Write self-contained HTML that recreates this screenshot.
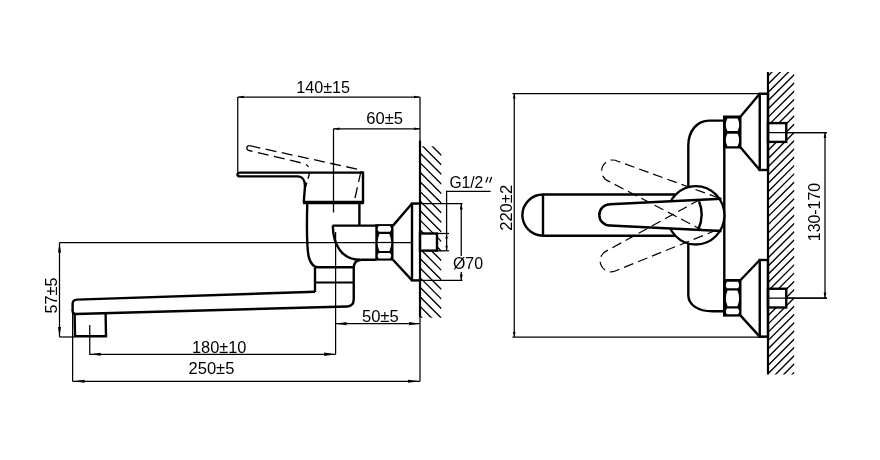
<!DOCTYPE html>
<html><head><meta charset="utf-8"><style>
html,body{margin:0;padding:0;background:#fff;}
svg{display:block;will-change:transform;}
text{font-family:"Liberation Sans",sans-serif;fill:#000;}
</style></head><body>
<svg width="880" height="460" viewBox="0 0 880 460">
<rect width="880" height="460" fill="#fff"/>
<path d="M237.75,97 L420,97" stroke="#000" stroke-width="1.25" fill="none" />
<path d="M237.75,97 L243.75,95.70 L243.75,98.30 Z" fill="#000" stroke="none"/>
<path d="M420,97 L414.00,98.30 L414.00,95.70 Z" fill="#000" stroke="none"/>
<path d="M237.75,97 L237.75,172" stroke="#000" stroke-width="1.25" fill="none" />
<path d="M420,97 L420,141" stroke="#000" stroke-width="1.25" fill="none" />
<path d="M333.5,128.75 L420,128.75" stroke="#000" stroke-width="1.25" fill="none" />
<path d="M333.5,128.75 L339.50,127.45 L339.50,130.05 Z" fill="#000" stroke="none"/>
<path d="M420,128.75 L414.00,130.05 L414.00,127.45 Z" fill="#000" stroke="none"/>
<path d="M333.5,128.75 L333.5,212.5" stroke="#000" stroke-width="1.25" fill="none" />
<text x="296.25" y="92.5" font-size="16" textLength="53.75" lengthAdjust="spacingAndGlyphs">140±15</text>
<text x="366.25" y="123.5" font-size="16" textLength="36.85000000000002" lengthAdjust="spacingAndGlyphs">60±5</text>
<path d="M59.5,242.5 L412,242.5" stroke="#000" stroke-width="1.25" fill="none" />
<path d="M59.5,242.5 L59.5,337" stroke="#000" stroke-width="1.25" fill="none" />
<path d="M59.5,242.5 L61.00,252.50 L58.00,252.50 Z" fill="#000" stroke="none"/>
<path d="M59.5,337 L58.00,327.00 L61.00,327.00 Z" fill="#000" stroke="none"/>
<path d="M59.5,337 L74,337" stroke="#000" stroke-width="1.25" fill="none" />
<text transform="translate(56.5,313.5) rotate(-90)" x="0" y="0" font-size="16" textLength="35.89999999999998" lengthAdjust="spacingAndGlyphs">57±5</text>
<path d="M72.6,313 L72.6,381.25" stroke="#000" stroke-width="1.25" fill="none" />
<path d="M89.75,325 L89.75,354.25 L335.6,354.25" stroke="#000" stroke-width="1.25" fill="none" />
<path d="M89.75,354.25 L100.75,352.65 L100.75,355.85 Z" fill="#000" stroke="none"/>
<path d="M335.6,354.25 L324.20,355.95 L324.20,352.55 Z" fill="#000" stroke="none"/>
<path d="M72.6,381.25 L420,381.25" stroke="#000" stroke-width="1.25" fill="none" />
<path d="M72.6,381.25 L84.60,379.65 L84.60,382.85 Z" fill="#000" stroke="none"/>
<path d="M420,381.25 L408.00,382.85 L408.00,379.65 Z" fill="#000" stroke="none"/>
<text x="191.9" y="353.1" font-size="16" textLength="54.599999999999994" lengthAdjust="spacingAndGlyphs">180±10</text>
<text x="188.5" y="374.4" font-size="16" textLength="45.900000000000006" lengthAdjust="spacingAndGlyphs">250±5</text>
<path d="M335.6,232 L335.6,354.25" stroke="#000" stroke-width="1.25" fill="none" />
<path d="M335.6,323.7 L420,323.7" stroke="#000" stroke-width="1.25" fill="none" />
<path d="M335.6,323.7 L346.60,322.10 L346.60,325.30 Z" fill="#000" stroke="none"/>
<path d="M420,323.7 L409.00,325.30 L409.00,322.10 Z" fill="#000" stroke="none"/>
<path d="M420,317 L420,381.25" stroke="#000" stroke-width="1.25" fill="none" />
<text x="361.9" y="321.9" font-size="16" textLength="36.85000000000002" lengthAdjust="spacingAndGlyphs">50±5</text>
<path d="M490.6,191.25 L446.6,191.25 L446.6,233.5" stroke="#000" stroke-width="1.25" fill="none" />
<text x="449.4" y="187.5" font-size="16" textLength="33.900000000000034" lengthAdjust="spacingAndGlyphs">G1/2</text>
<path d="M487.9,177 L485.9,182.6" stroke="#000" stroke-width="1.3" fill="none" />
<path d="M491.6,177 L489.6,182.6" stroke="#000" stroke-width="1.3" fill="none" />
<path d="M411,203.5 L462.5,203.5" stroke="#000" stroke-width="1.25" fill="none" />
<path d="M461.25,203.5 L461.25,256" stroke="#000" stroke-width="1.25" fill="none" />
<path d="M461.25,203.5 L462.65,209.50 L459.85,209.50 Z" fill="#000" stroke="none"/>
<path d="M461.25,272 L461.25,280.4" stroke="#000" stroke-width="1.25" fill="none" />
<path d="M461.25,280.4 L459.85,274.40 L462.65,274.40 Z" fill="#000" stroke="none"/>
<path d="M420,280.4 L462.5,280.4" stroke="#000" stroke-width="1.25" fill="none" />
<text x="453" y="268.75" font-size="16" textLength="30" lengthAdjust="spacingAndGlyphs">Ø70</text>
<clipPath id="cl1"><rect x="420" y="146.3" width="21.5" height="171.5"/></clipPath>
<path d="M420,-239.70 L441.5,-218.20 M420,-230.12 L441.5,-208.62 M420,-220.54 L441.5,-199.04 M420,-210.96 L441.5,-189.46 M420,-201.38 L441.5,-179.88 M420,-191.80 L441.5,-170.30 M420,-182.22 L441.5,-160.72 M420,-172.64 L441.5,-151.14 M420,-163.06 L441.5,-141.56 M420,-153.48 L441.5,-131.98 M420,-143.90 L441.5,-122.40 M420,-134.32 L441.5,-112.82 M420,-124.74 L441.5,-103.24 M420,-115.16 L441.5,-93.66 M420,-105.58 L441.5,-84.08 M420,-96.00 L441.5,-74.50 M420,-86.42 L441.5,-64.92 M420,-76.84 L441.5,-55.34 M420,-67.26 L441.5,-45.76 M420,-57.68 L441.5,-36.18 M420,-48.10 L441.5,-26.60 M420,-38.52 L441.5,-17.02 M420,-28.94 L441.5,-7.44 M420,-19.36 L441.5,2.14 M420,-9.78 L441.5,11.72 M420,-0.20 L441.5,21.30 M420,9.38 L441.5,30.88 M420,18.96 L441.5,40.46 M420,28.54 L441.5,50.04 M420,38.12 L441.5,59.62 M420,47.70 L441.5,69.20 M420,57.28 L441.5,78.78 M420,66.86 L441.5,88.36 M420,76.44 L441.5,97.94 M420,86.02 L441.5,107.52 M420,95.60 L441.5,117.10 M420,105.18 L441.5,126.68 M420,114.76 L441.5,136.26 M420,124.34 L441.5,145.84 M420,133.92 L441.5,155.42 M420,143.50 L441.5,165.00 M420,153.08 L441.5,174.58 M420,162.66 L441.5,184.16 M420,172.24 L441.5,193.74 M420,181.82 L441.5,203.32 M420,191.40 L441.5,212.90 M420,200.98 L441.5,222.48 M420,210.56 L441.5,232.06 M420,220.14 L441.5,241.64 M420,229.72 L441.5,251.22 M420,239.30 L441.5,260.80 M420,248.88 L441.5,270.38 M420,258.46 L441.5,279.96 M420,268.04 L441.5,289.54 M420,277.62 L441.5,299.12 M420,287.20 L441.5,308.70 M420,296.78 L441.5,318.28 M420,306.36 L441.5,327.86 M420,315.94 L441.5,337.44" stroke="#000" stroke-width="1.35" clip-path="url(#cl1)"/>
<rect x="420" y="233.5" width="17" height="17.1" fill="#fff"/>
<path d="M420,140.6 L420,317" stroke="#000" stroke-width="2.2" fill="none" />
<path d="M363,172.6 H240 Q237.5,172.6 237.5,174.5 Q237.5,176.4 240,176.4 H297.5 C302,176.4 305,180 305,186 L303.75,202.5" stroke="#000" stroke-width="2.4" fill="none" />
<path d="M363,171.5 L363,203.5" stroke="#000" stroke-width="2.4" fill="none" />
<path d="M303,202.5 L363.5,202.5" stroke="#000" stroke-width="3.6" fill="none" />
<path d="M355,198 L361.25,170 L249.5,145.7" stroke="#000" stroke-width="1.3" fill="none" stroke-dasharray="11,5.5"/>
<path d="M249.5,145.7 A2.4,2.4 0 0 0 249,150.5 L303,163.3 Q307,164.5 308.5,167" stroke="#000" stroke-width="1.3" fill="none" stroke-dasharray="11,5.5" stroke-dashoffset="0"/>
<path d="M309.6,173 L305.2,188.5" stroke="#000" stroke-width="1.3" fill="none" stroke-dasharray="6,4"/>
<path d="M307.25,204 C306.6,230 306.8,250 309,258 C311,264 314,267.25 318,267.25 H353.75" stroke="#000" stroke-width="2.4" fill="none" />
<path d="M359.4,204 L359.4,225.6" stroke="#000" stroke-width="2.4" fill="none" />
<path d="M315,267.25 L315,292" stroke="#000" stroke-width="2.4" fill="none" />
<path d="M315,282.5 L353.75,282.5" stroke="#000" stroke-width="2.0" fill="none" />
<path d="M376.25,259.75 H362 Q353.75,259.75 353.75,268 V299 Q353.75,306.4 347,306.5 L76,314 Q72.6,314.1 72.6,310.5" stroke="#000" stroke-width="2.4" fill="none" />
<path d="M315,291.75 L77,299.6 Q72.6,299.8 72.6,304 V311" stroke="#000" stroke-width="2.4" fill="none" />
<path d="M74.6,313.5 L75,336.3 H106 L105.6,313" stroke="#000" stroke-width="2.4" fill="none" />
<path d="M332.5,225.6 L393,225.6" stroke="#000" stroke-width="2.4" fill="none" />
<path d="M332.8,225.6 C333,245 342,259.75 360,259.75" stroke="#000" stroke-width="2.4" fill="none" />
<rect x="375.3" y="224.2" width="18.2" height="36.4" fill="#000"/>
<path d="M378.8,226.0 H390.0 Q392.4,228.9 390.0,231.8 H378.8 Q376.40000000000003,228.9 378.8,226.0 Z" fill="#fff"/>
<path d="M379.40000000000003,233.9 H389.4 Q393.0,242.45 389.4,251.0 H379.40000000000003 Q375.8,242.45 379.40000000000003,233.9 Z" fill="#fff"/>
<path d="M378.8,253.1 H390.0 Q392.4,255.85000000000002 390.0,258.6 H378.8 Q376.40000000000003,255.85000000000002 378.8,253.1 Z" fill="#fff"/>
<path d="M376,242.5 L393,242.5" stroke="#000" stroke-width="1.25" fill="none" />
<path d="M393,225.6 L412,203.5" stroke="#000" stroke-width="2.4" fill="none" />
<path d="M393,259.75 L412,280.4" stroke="#000" stroke-width="2.4" fill="none" />
<path d="M412,203.5 L412,280.4" stroke="#000" stroke-width="2.4" fill="none" />
<path d="M411,203.5 L420,203.5" stroke="#000" stroke-width="2.4" fill="none" />
<path d="M411,280.4 L420,280.4" stroke="#000" stroke-width="2.4" fill="none" />
<rect x="420" y="233.5" width="17" height="17.1" fill="none" stroke="#000" stroke-width="2.4"/>
<path d="M437,233.5 L449,233.5" stroke="#000" stroke-width="1.25" fill="none" />
<path d="M437,250.8 L449,250.8" stroke="#000" stroke-width="1.25" fill="none" />
<path d="M446.6,233.5 L446.6,250.8" stroke="#000" stroke-width="1.25" fill="none" />
<path d="M446.6,233.5 L447.80,238.50 L445.40,238.50 Z" fill="#000" stroke="none"/>
<path d="M446.6,250.8 L445.40,245.80 L447.80,245.80 Z" fill="#000" stroke="none"/>
<path d="M512.5,93.6 L760,93.6" stroke="#000" stroke-width="1.25" fill="none" />
<path d="M514.25,93.6 L514.25,337" stroke="#000" stroke-width="1.25" fill="none" />
<path d="M514.25,93.6 L515.55,98.60 L512.95,98.60 Z" fill="#000" stroke="none"/>
<path d="M514.25,337 L512.95,332.00 L515.55,332.00 Z" fill="#000" stroke="none"/>
<path d="M512.5,337 L768,337" stroke="#000" stroke-width="1.25" fill="none" />
<text transform="translate(512.4,230.8) rotate(-90)" x="0" y="0" font-size="16" textLength="45.900000000000006" lengthAdjust="spacingAndGlyphs">220±2</text>
<path d="M768,132.5 L827,132.5" stroke="#000" stroke-width="1.25" fill="none" />
<path d="M768,298 L827,298" stroke="#000" stroke-width="1.25" fill="none" />
<path d="M825,132.5 L825,298" stroke="#000" stroke-width="1.25" fill="none" />
<path d="M825,132.5 L826.40,138.00 L823.60,138.00 Z" fill="#000" stroke="none"/>
<path d="M825,298 L823.60,292.50 L826.40,292.50 Z" fill="#000" stroke="none"/>
<text transform="translate(820,241.2) rotate(-90)" x="0" y="0" font-size="16" textLength="58.29999999999998" lengthAdjust="spacingAndGlyphs">130-170</text>
<clipPath id="cl2"><rect x="768" y="72" width="26.4" height="302.4"/></clipPath>
<path d="M768,-64.60 L794.4,-91.00 M768,-56.33 L794.4,-82.73 M768,-48.06 L794.4,-74.46 M768,-39.79 L794.4,-66.19 M768,-31.52 L794.4,-57.92 M768,-23.25 L794.4,-49.65 M768,-14.98 L794.4,-41.38 M768,-6.71 L794.4,-33.11 M768,1.56 L794.4,-24.84 M768,9.83 L794.4,-16.57 M768,18.10 L794.4,-8.30 M768,26.37 L794.4,-0.03 M768,34.64 L794.4,8.24 M768,42.91 L794.4,16.51 M768,51.18 L794.4,24.78 M768,59.45 L794.4,33.05 M768,67.72 L794.4,41.32 M768,75.99 L794.4,49.59 M768,84.26 L794.4,57.86 M768,92.53 L794.4,66.13 M768,100.80 L794.4,74.40 M768,109.07 L794.4,82.67 M768,117.34 L794.4,90.94 M768,125.61 L794.4,99.21 M768,133.88 L794.4,107.48 M768,142.15 L794.4,115.75 M768,150.42 L794.4,124.02 M768,158.69 L794.4,132.29 M768,166.96 L794.4,140.56 M768,175.23 L794.4,148.83 M768,183.50 L794.4,157.10 M768,191.77 L794.4,165.37 M768,200.04 L794.4,173.64 M768,208.31 L794.4,181.91 M768,216.58 L794.4,190.18 M768,224.85 L794.4,198.45 M768,233.12 L794.4,206.72 M768,241.39 L794.4,214.99 M768,249.66 L794.4,223.26 M768,257.93 L794.4,231.53 M768,266.20 L794.4,239.80 M768,274.47 L794.4,248.07 M768,282.74 L794.4,256.34 M768,291.01 L794.4,264.61 M768,299.28 L794.4,272.88 M768,307.55 L794.4,281.15 M768,315.82 L794.4,289.42 M768,324.09 L794.4,297.69 M768,332.36 L794.4,305.96 M768,340.63 L794.4,314.23 M768,348.90 L794.4,322.50 M768,357.17 L794.4,330.77 M768,365.44 L794.4,339.04 M768,373.71 L794.4,347.31 M768,381.98 L794.4,355.58 M768,390.25 L794.4,363.85 M768,398.52 L794.4,372.12 M768,406.79 L794.4,380.39 M768,415.06 L794.4,388.66 M768,423.33 L794.4,396.93 M768,431.60 L794.4,405.20 M768,439.87 L794.4,413.47 M768,448.14 L794.4,421.74 M768,456.41 L794.4,430.01 M768,464.68 L794.4,438.28 M768,472.95 L794.4,446.55 M768,481.22 L794.4,454.82 M768,489.49 L794.4,463.09 M768,497.76 L794.4,471.36 M768,506.03 L794.4,479.63 M768,514.30 L794.4,487.90 M768,522.57 L794.4,496.17 M768,530.84 L794.4,504.44 M768,539.11 L794.4,512.71 M768,547.38 L794.4,520.98 M768,555.65 L794.4,529.25 M768,563.92 L794.4,537.52 M768,572.19 L794.4,545.79 M768,580.46 L794.4,554.06 M768,588.73 L794.4,562.33" stroke="#000" stroke-width="1.35" clip-path="url(#cl2)"/>
<rect x="768" y="123.1" width="18.25" height="18.8" fill="#fff"/>
<rect x="768" y="288.75" width="18.25" height="18.75" fill="#fff"/>
<path d="M768,72 L768,374.4" stroke="#000" stroke-width="2.2" fill="none" />
<path d="M768,132.5 L827,132.5" stroke="#000" stroke-width="1.25" fill="none" />
<path d="M768,298 L827,298" stroke="#000" stroke-width="1.25" fill="none" />
<rect x="768" y="123.1" width="18.25" height="18.8" fill="none" stroke="#000" stroke-width="2.4"/>
<rect x="768" y="288.75" width="18.25" height="18.75" fill="none" stroke="#000" stroke-width="2.4"/>
<rect x="759.75" y="93.75" width="8.25" height="76.25" fill="none" stroke="#000" stroke-width="2.4"/>
<rect x="759.75" y="260" width="8.25" height="76.6" fill="none" stroke="#000" stroke-width="2.4"/>
<path d="M740.6,116.5 L759.75,93.75" stroke="#000" stroke-width="2.4" fill="none" />
<path d="M740.6,147.5 L759.75,170" stroke="#000" stroke-width="2.4" fill="none" />
<path d="M740.6,280 L759.75,260" stroke="#000" stroke-width="2.4" fill="none" />
<path d="M740.6,315.6 L759.75,336.6" stroke="#000" stroke-width="2.4" fill="none" />
<rect x="723" y="115.5" width="18.5" height="33" fill="#000"/>
<path d="M727.4,118.4 H737.6 Q740.8000000000001,124.65 737.6,130.9 H727.4 Q724.1999999999999,124.65 727.4,118.4 Z" fill="#fff"/>
<path d="M727.4,133.7 H737.6 Q740.8000000000001,139.95 737.6,146.2 H727.4 Q724.1999999999999,139.95 727.4,133.7 Z" fill="#fff"/>
<rect x="723" y="279" width="18.5" height="37.6" fill="#000"/>
<path d="M727.0,281.8 H738.0 Q740.4000000000001,285.05 738.0,288.3 H727.0 Q724.5999999999999,285.05 727.0,281.8 Z" fill="#fff"/>
<path d="M727.5999999999999,290.6 H737.4000000000001 Q741.0,298.45000000000005 737.4000000000001,306.3 H727.5999999999999 Q724.0,298.45000000000005 727.5999999999999,290.6 Z" fill="#fff"/>
<path d="M727.0,308.6 H738.0 Q740.4000000000001,311.45000000000005 738.0,314.3 H727.0 Q724.5999999999999,311.45000000000005 727.0,308.6 Z" fill="#fff"/>
<path d="M723.75,120.6 H709.2 C697,120.6 688.3,131 688.3,145.7 V295 C688.3,305 698,311.25 712.5,311.25 H723.75" stroke="#000" stroke-width="2.4" fill="none" />
<path d="M724.3,147.5 L724.3,280" stroke="#000" stroke-width="2.4" fill="none" />
<path d="M675,194.5 H543 A20.6,20.6 0 0 0 543,235.75 H675" stroke="#000" stroke-width="2.4" fill="#fff" />
<path d="M543,194.5 L543,235.75" stroke="#000" stroke-width="2.4" fill="none" />
<ellipse cx="695.8" cy="215.3" rx="28.6" ry="29.2" fill="#fff" stroke="#000" stroke-width="2.3"/>
<clipPath id="cl3"><rect x="590" y="150" width="107" height="100"/></clipPath>
<path d="M721.5,198.8 L610,204.2 A10.7,10.7 0 0 0 610,225.6 L721.5,231 Z" fill="#fff" stroke="none" clip-path="url(#cl3)"/>
<path d="M719,198 L617.75,161.26 A11,11 0 1 0 608.91,181.35 L706,232" stroke="#000" stroke-width="1.2" fill="none" stroke-dasharray="10,5"/>
<path d="M700,199.5 L607.00,250.66 A11,11 0 1 0 616.42,270.50 L713,231.5" stroke="#000" stroke-width="1.2" fill="none" stroke-dasharray="10,5"/>
<path d="M721.5,198.8 L610,204.2 A10.7,10.7 0 0 0 610,225.6 L721.5,231" stroke="#000" stroke-width="2.5" fill="none" />
<path d="M699,201.2 Q704.8,215 698.2,229.8" stroke="#000" stroke-width="2.4" fill="none" />
</svg></body></html>
